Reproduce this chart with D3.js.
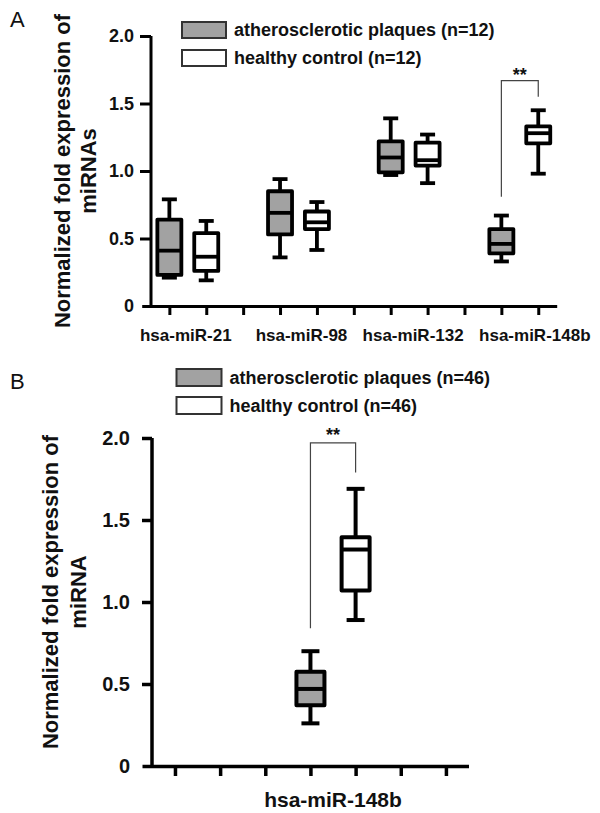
<!DOCTYPE html>
<html>
<head>
<meta charset="utf-8">
<script src="https://cdn.jsdelivr.net/npm/d3@7"></script>
<style>
  html, body { margin: 0; padding: 0; background: #fff; }
  svg { display: block; }
  text { font-family: "Liberation Sans", Arial, sans-serif; }
</style>
</head>
<body>
<svg id="chart" width="600" height="813"></svg>
<script>
// ---------- DATA ----------
const categoriesA = ["hsa-miR-21", "hsa-miR-98", "hsa-miR-132", "hsa-miR-148b"];
// [min, q1, median, q3, max]
const plaqueA = [
  [0.21, 0.23, 0.41, 0.64, 0.79],
  [0.36, 0.53, 0.69, 0.85, 0.94],
  [0.97, 0.99, 1.10, 1.22, 1.39],
  [0.33, 0.39, 0.46, 0.57, 0.67]
];
const controlA = [
  [0.19, 0.26, 0.365, 0.54, 0.63],
  [0.415, 0.57, 0.62, 0.70, 0.77],
  [0.91, 1.04, 1.08, 1.21, 1.27],
  [0.98, 1.205, 1.28, 1.33, 1.45]
];
const categoriesB = ["hsa-miR-148b"];
const plaqueB = [[0.26, 0.37, 0.47, 0.575, 0.70]];
const controlB = [[0.89, 1.07, 1.32, 1.395, 1.69]];

const yTicks = [0, 0.5, 1.0, 1.5, 2.0];
const legendA = ["atherosclerotic plaques (n=12)", "healthy control (n=12)"];
const legendB = ["atherosclerotic plaques (n=46)", "healthy control (n=46)"];
const yTitleA = ["Normalized fold expression of", "miRNAs"];
const yTitleB = ["Normalized fold expression of", "miRNA"];
// significance brackets: [left bottom, top, right bottom] in data units
const sigA = { cat: 3, vals: [0.81, 1.67, 1.55], label: "**" };
const sigB = { cat: 0, vals: [0.84, 1.97, 1.79], label: "**" };

// ---------- STYLE ----------
const GRAY = "#a2a2a2";
const svg = d3.select("#chart");
const fmt = d => d === 0 ? "0" : d3.format(".1f")(d);

function panel(cfg) {
  const g = svg.append("g");
  const x = d3.scaleLinear().domain(cfg.xDomain).range(cfg.xRange);
  const y = d3.scaleLinear().domain([0, 2]).range(cfg.yRange);
  const pos = (i, off) => cfg.start + i * 3 + off;

  // y axis
  const ya = g.append("g")
    .attr("transform", `translate(${cfg.yAxisX},0)`)
    .call(d3.axisLeft(y).tickValues(yTicks.slice(1)).tickFormat(fmt).tickSize(cfg.yTick).tickSizeOuter(0).tickPadding(cfg.yPad));
  ya.select(".domain").attr("stroke-width", cfg.axisW).attr("d", `M0,${y(0)}V${y(2)}`);
  ya.selectAll(".tick line").attr("stroke-width", cfg.axisW);
  ya.selectAll(".tick text").attr("font-size", cfg.tickFont).attr("font-weight", "bold").attr("fill", "#111");
  g.append("text").attr("x", cfg.yAxisX - cfg.yTick - cfg.yPad).attr("y", y(0)).attr("dy", "0.36em")
    .attr("text-anchor", "end").attr("font-size", cfg.tickFont).attr("font-weight", "bold").attr("fill", "#111").text(fmt(yTicks[0]));

  // x axis
  const xa = g.append("g")
    .attr("transform", `translate(0,${y(0)})`)
    .call(d3.axisBottom(x).tickValues(d3.range(1, cfg.nTicks + 1)).tickFormat("").tickSize(cfg.xTick).tickSizeOuter(0));
  xa.select(".domain").attr("stroke-width", cfg.axisW);
  xa.selectAll(".tick line").attr("stroke-width", cfg.axisW);

  // boxes
  const series = [
    { data: cfg.plaque, fill: GRAY, off: 0 },
    { data: cfg.control, fill: "#fff", off: 1 }
  ];
  series.forEach(s => {
    s.data.forEach((v, i) => {
      const cx = x(pos(i, s.off));
      const bg = g.append("g").attr("stroke", "#000").attr("stroke-width", cfg.boxW).attr("stroke-linejoin", "round");
      bg.append("line").attr("x1", cx).attr("x2", cx).attr("y1", y(v[0])).attr("y2", y(v[4]));
      [v[0], v[4]].forEach(c => bg.append("line")
        .attr("x1", cx - cfg.capW / 2).attr("x2", cx + cfg.capW / 2).attr("y1", y(c)).attr("y2", y(c)));
      bg.append("rect").attr("x", cx - cfg.boxWidth / 2).attr("width", cfg.boxWidth)
        .attr("y", y(v[3])).attr("height", y(v[1]) - y(v[3])).attr("fill", s.fill);
      bg.append("line").attr("x1", cx - cfg.boxWidth / 2).attr("x2", cx + cfg.boxWidth / 2)
        .attr("y1", y(v[2])).attr("y2", y(v[2]));
    });
  });

  // category labels
  cfg.categories.forEach((c, i) => {
    g.append("text").attr("x", x(pos(i, 0.5)) + (cfg.labelShift[i] || 0)).attr("y", cfg.catY)
      .attr("text-anchor", "middle").attr("font-size", cfg.catFont).attr("font-weight", "bold").attr("fill", "#111").text(c);
  });

  // significance bracket
  const sx1 = x(pos(cfg.sig.cat, 0)), sx2 = x(pos(cfg.sig.cat, 1));
  const sv = cfg.sig.vals;
  g.append("path").attr("d", `M${sx1},${y(sv[0])}V${y(sv[1])}H${sx2}V${y(sv[2])}`)
    .attr("fill", "none").attr("stroke", "#444").attr("stroke-width", 1.2);
  g.append("text").attr("x", (sx1 + sx2) / 2).attr("y", y(sv[1]) + cfg.starDy)
    .attr("text-anchor", "middle").attr("font-size", 18).attr("font-weight", "bold").attr("fill", "#111").text(cfg.sig.label);

  // legend
  cfg.legend.forEach((t, i) => {
    const ly = cfg.legY + i * cfg.legStep;
    g.append("rect").attr("x", cfg.legX).attr("y", ly).attr("width", cfg.legW).attr("height", cfg.legH)
      .attr("fill", i === 0 ? GRAY : "#fff").attr("stroke", "#333").attr("stroke-width", 2);
    g.append("text").attr("x", cfg.legX + cfg.legW + 8).attr("y", ly + cfg.legH - 2)
      .attr("font-size", 18).attr("font-weight", "bold").attr("fill", "#111").text(t);
  });

  // y title
  const tt = g.append("text").attr("transform", `translate(0,${cfg.titleCY}) rotate(-90)`)
    .attr("text-anchor", "middle").attr("font-size", 22).attr("font-weight", "bold").attr("fill", "#111");
  cfg.yTitle.forEach((t, i) => tt.append("tspan").attr("x", 0).attr("y", cfg.titleX[i]).text(t));

  // panel letter
  g.append("text").attr("x", 10).attr("y", cfg.letterY).attr("font-size", 22).attr("fill", "#111").text(cfg.letter);
}

panel({
  letter: "A", letterY: 27,
  categories: categoriesA, plaque: plaqueA, control: controlA, start: 1,
  xDomain: [0.25, 11.5], xRange: [141.7, 556.7], yRange: [306, 36], yAxisX: 151,
  nTicks: 11, yTick: 11, yPad: 6, xTick: 9, axisW: 3, boxW: 3.8, boxWidth: 24, capW: 15,
  tickFont: 18, catFont: 17, catY: 341, labelShift: [-2, 3, 4, 15],
  sig: sigA, starDy: 0,
  legend: legendA, legX: 182, legY: 22, legW: 44, legH: 16, legStep: 28,
  yTitle: yTitleA, titleCY: 171, titleX: [70, 96]
});

panel({
  letter: "B", letterY: 389,
  categories: categoriesB, plaque: plaqueB, control: controlB, start: 4,
  xDomain: [0.27, 7.5], xRange: [142, 468.5], yRange: [766, 438], yAxisX: 152,
  nTicks: 7, yTick: 10, yPad: 12, xTick: 10, axisW: 3.5, boxW: 4, boxWidth: 28, capW: 18,
  tickFont: 20, catFont: 21, catY: 807, labelShift: [0],
  sig: sigB, starDy: -2,
  legend: legendB, legX: 176.5, legY: 369, legW: 45, legH: 17, legStep: 28,
  yTitle: yTitleB, titleCY: 592, titleX: [58, 86]
});
</script>
</body>
</html>
